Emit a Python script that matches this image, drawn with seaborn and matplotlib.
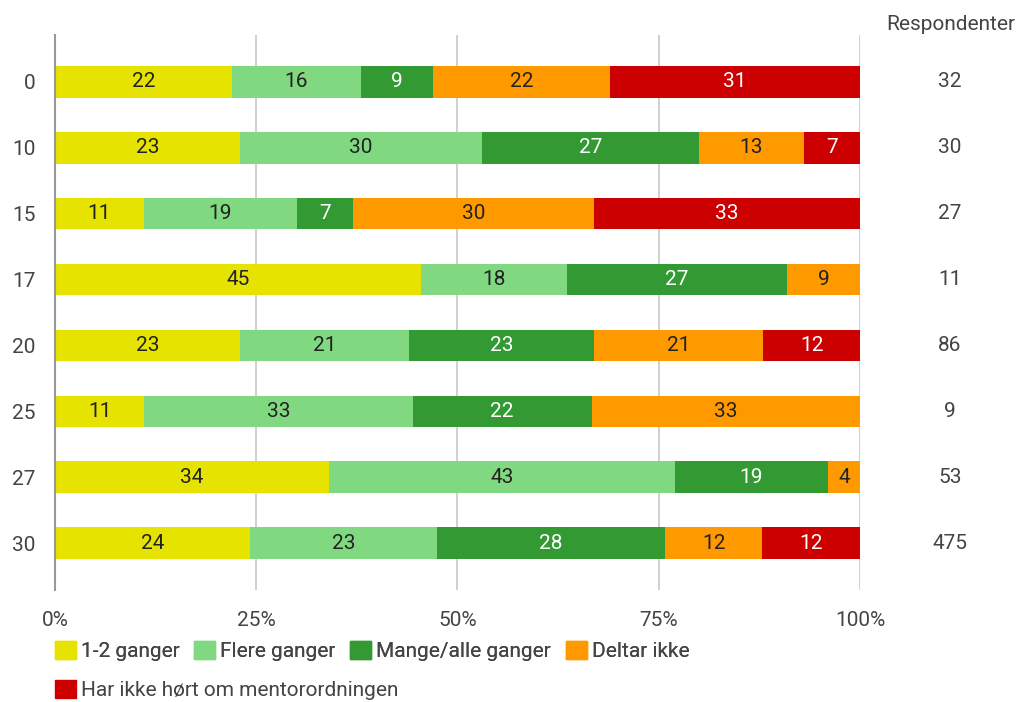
import numpy as np
import pandas as pd
import matplotlib
matplotlib.use("Agg")
import matplotlib.pyplot as plt
import matplotlib.transforms as mtransforms
from matplotlib.patches import Patch
import seaborn as sns

# Data (percent per group, rounded as labelled)
groups = ["0", "10", "15", "17", "20", "25", "27", "30"]
series = ["1-2 ganger", "Flere ganger", "Mange/alle ganger", "Deltar ikke",
          "Har ikke hørt om mentorordningen"]
ganger_1_2 = [22, 23, 11, 45, 23, 11, 34, 24]
flere = [16, 30, 19, 18, 21, 33, 43, 23]
mange = [9, 27, 7, 27, 23, 22, 19, 28]
deltar_ikke = [22, 13, 30, 9, 21, 33, 4, 12]
ikke_hort = [31, 7, 33, 0, 12, 0, 0, 12]
respondenter = [32, 30, 27, 11, 86, 9, 53, 475]

colors = ["#e6e300", "#80d980", "#339933", "#ff9900", "#cc0000"]
label_colors = ["#222222", "#222222", "white", "#222222", "white"]
FS = 15

sns.set_theme(style="white")
plt.rcParams["font.family"] = ["Roboto", "DejaVu Sans"]

df = pd.DataFrame({"group": groups, series[0]: ganger_1_2, series[1]: flere,
                   series[2]: mange, series[3]: deltar_ikke, series[4]: ikke_hort})
vals = df[series].to_numpy(dtype=float)
# bars fill the full 100% width
widths = vals / vals.sum(axis=1, keepdims=True) * 100
cum = widths.cumsum(axis=1)

fig = plt.figure(figsize=(10.2, 7.02), dpi=100)
ax = fig.add_axes([55 / 1020, 1 - 590 / 702, 805 / 1020, 555 / 702])

# stacked bars: draw cumulative totals from the last series backwards
for i in reversed(range(len(series))):
    plot_df = pd.DataFrame({"group": groups, "cum": cum[:, i]})
    sns.barplot(data=plot_df, x="cum", y="group", order=groups, orient="h",
                color=colors[i], saturation=1, width=0.48, linewidth=0, ax=ax)

# segment labels
for r in range(len(groups)):
    for i in range(len(series)):
        if vals[r, i] <= 0:
            continue
        xc = cum[r, i] - widths[r, i] / 2
        ax.text(xc, r, f"{int(vals[r, i])}", ha="center", va="center",
                fontsize=FS, color=label_colors[i])

ax.set_xlim(0, 100)
ax.set_ylim(len(groups) - 1 + 0.71, -0.71)
ax.set_xticks([0, 25, 50, 75, 100])
ax.set_xticklabels(["0%", "25%", "50%", "75%", "100%"])
ax.set_xlabel("")
ax.set_ylabel("")
ax.xaxis.grid(True, color="#c8c8c8", linewidth=1.2)
ax.set_axisbelow(True)
ax.tick_params(axis="x", length=0, pad=15, labelsize=FS, labelcolor="#444444")
ax.tick_params(axis="y", length=0, pad=14, labelsize=FS, labelcolor="#444444")
for s in ["top", "right", "bottom"]:
    ax.spines[s].set_visible(False)
ax.spines["left"].set_color("#999999")
ax.spines["left"].set_linewidth(1.5)

# respondent counts column
trans = mtransforms.blended_transform_factory(fig.transFigure, ax.transData)
for r, n in enumerate(respondenter):
    ax.text(950 / 1020, r, str(n), transform=trans, ha="center", va="center",
            fontsize=FS, color="#444444", clip_on=False)
fig.text(951 / 1020, 1 - 24 / 702, "Respondenter", ha="center", va="center",
         fontsize=FS, color="#444444")

# legend in two rows
handles = [Patch(facecolor=c, edgecolor=c) for c in colors]
leg_kw = dict(loc="center left", frameon=False, fontsize=FS, borderpad=0,
              borderaxespad=0, handlelength=1.0, handleheight=1.0,
              handletextpad=0.25, labelcolor="#444444")
leg1 = fig.legend(handles[:4], series[:4], ncol=4, columnspacing=0.7,
                  bbox_to_anchor=(55 / 1020, 1 - 651 / 702), **leg_kw)
leg2 = fig.legend(handles[4:], series[4:], ncol=1,
                  bbox_to_anchor=(55 / 1020, 1 - 690 / 702), **leg_kw)
fig.add_artist(leg1)

fig.savefig("out.png", dpi=100)
